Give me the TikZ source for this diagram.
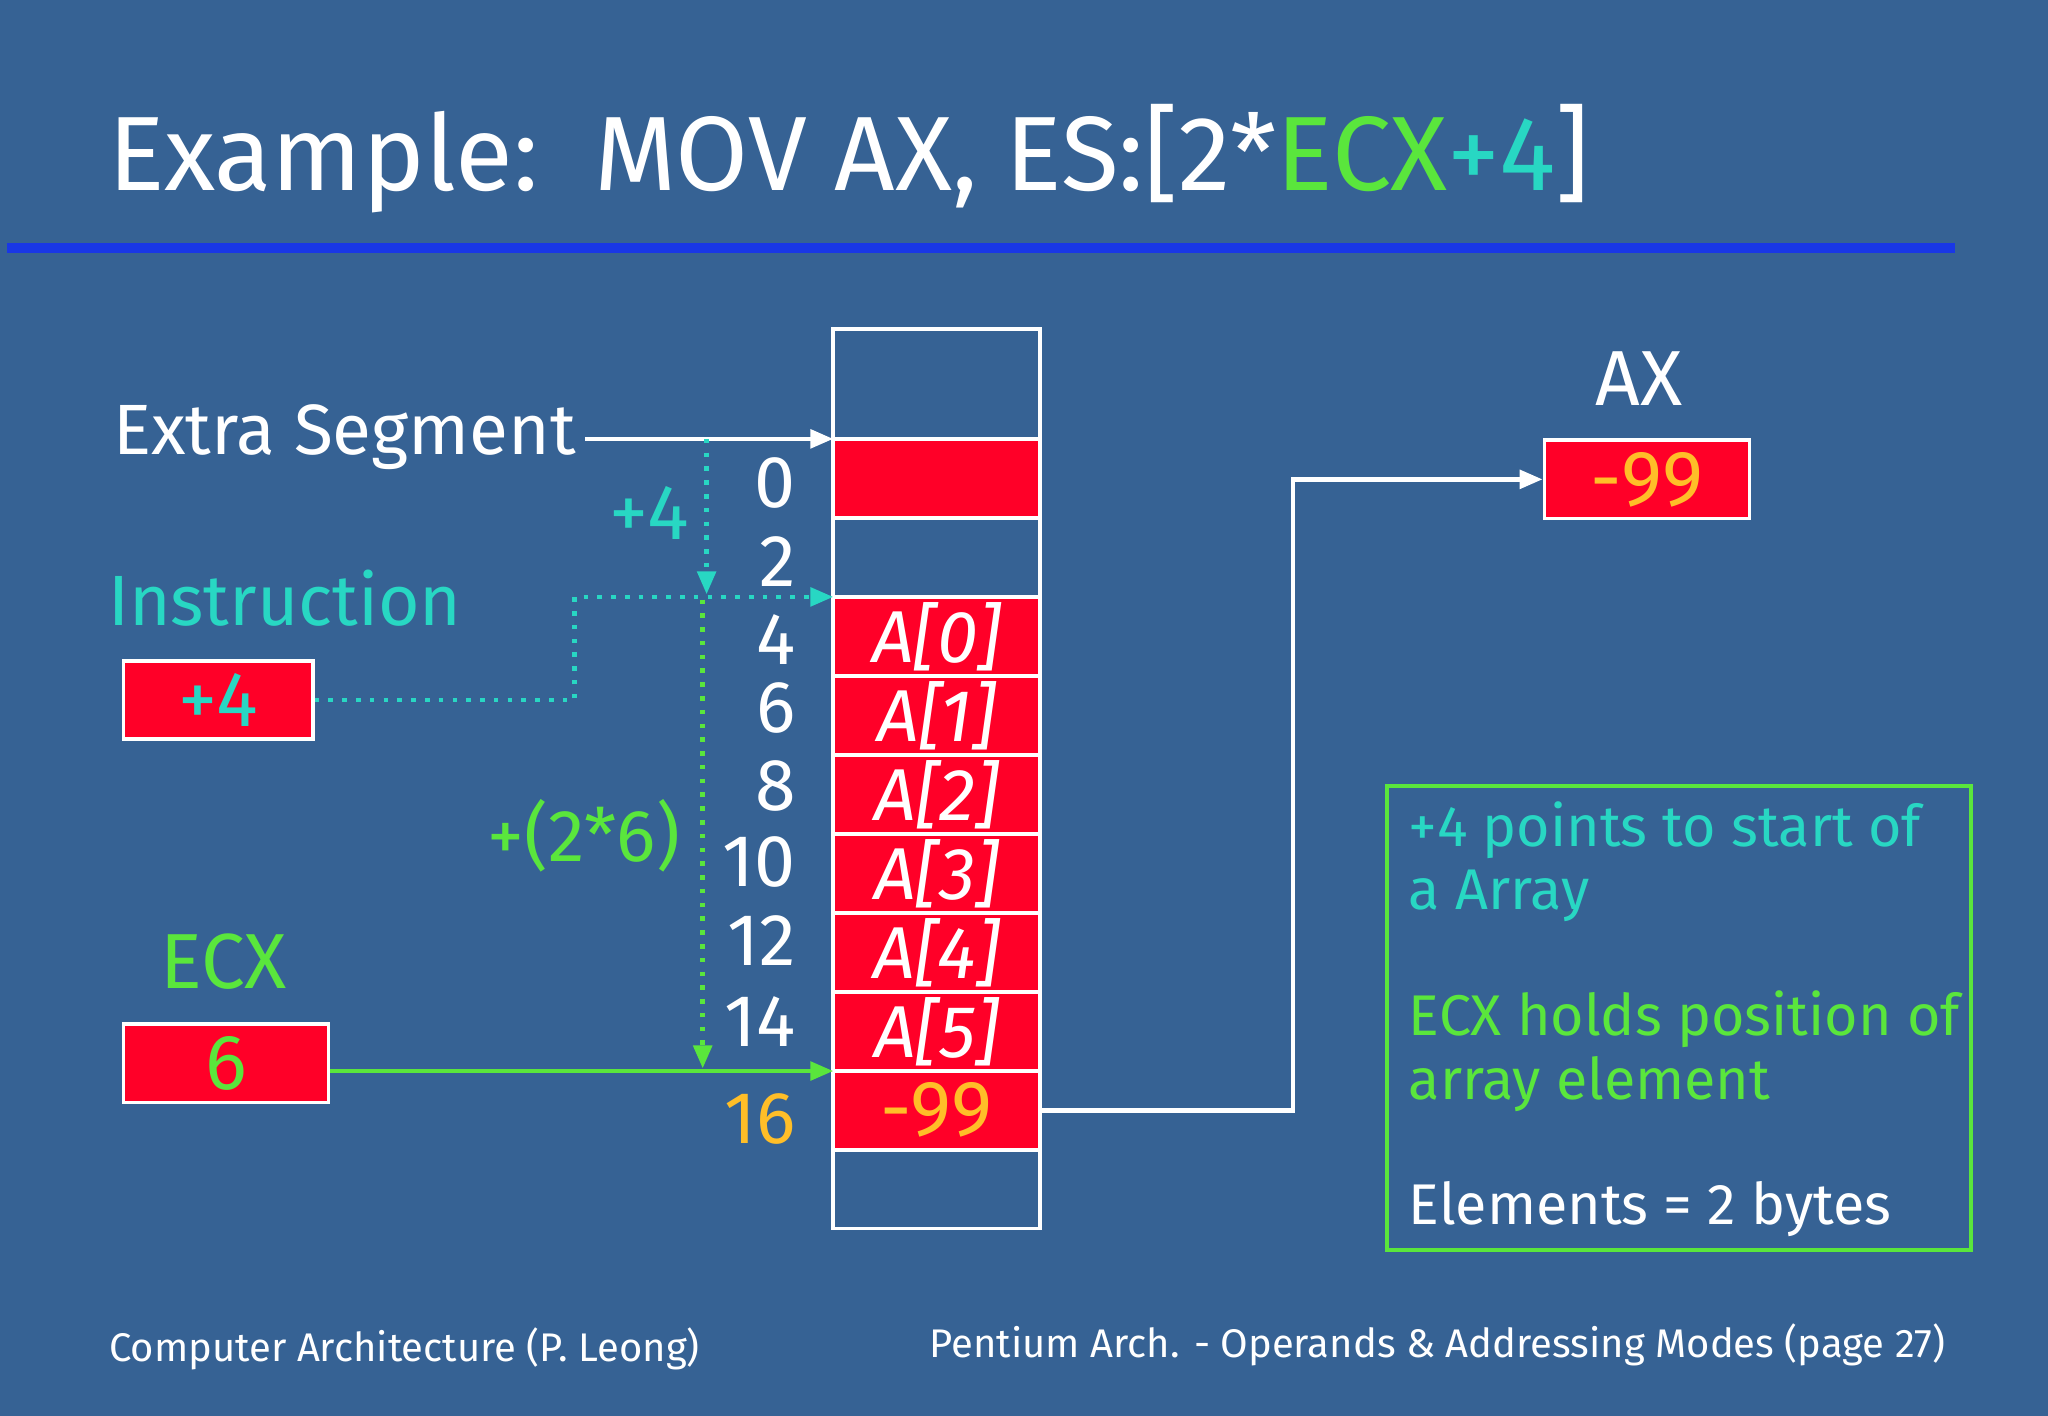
\documentclass[tikz,border=0pt]{standalone}
\usepackage{fontspec}
\setmainfont{Fira Sans}
\usetikzlibrary{positioning,arrows.meta}
\definecolor{bgblue}{RGB}{54,98,148}
\definecolor{lineblue}{RGB}{25,55,230}
\definecolor{cellred}{RGB}{255,0,40}
\definecolor{ecxgreen}{RGB}{90,230,60}
\definecolor{offcyan}{RGB}{40,215,195}
\definecolor{numorange}{RGB}{255,190,40}
\tikzset{
  >={Triangle[length=5pt,width=4pt]},
  link/.style={line width=1pt, ->},
  cell/.style={draw=white, thick, minimum width=1.58cm, minimum height=0.6cm, inner sep=0pt, text=white, font=\fontsize{16}{16}\selectfont\itshape},
  redcell/.style={cell, fill=cellred},
  reg/.style={draw=white, thick, fill=cellred, inner sep=0pt, font=\fontsize{17}{17}\selectfont},
  addr/.style={anchor=east, inner sep=0pt, text=white, font=\fontsize{16}{16}\selectfont},
  lbl/.style={anchor=west, inner sep=0pt, font=\fontsize{15.5}{15.5}\selectfont},
  note/.style={anchor=west, inner sep=0pt, font=\fontsize{12.5}{12.5}\selectfont},
}
\begin{document}
\begin{tikzpicture}[x=0.01cm,y=-0.01cm]
    \fill[bgblue] (0,0) rectangle (1568,1084);
    \useasboundingbox (0,0) rectangle (1568,1084);
    \fill[lineblue] (5,186) rectangle (1497,194);

    \node[anchor=base west, inner sep=0pt, text=white, font=\fontsize{23}{23}\selectfont] at (82,146)
      {Example:\ \ MOV AX, ES:[2*\textcolor{ecxgreen}{ECX}\textcolor{offcyan}{+4}]};

    % memory column
    \node[cell, minimum height=0.84cm] (top) at (717,294) {};
    \node[redcell] (m0) at (717,366.5) {};
    \node[cell] (m2) at (717,427) {};
    \foreach \i/\y in {0/487.5,1/548,2/608.5,3/669,4/729.5,5/790}
      \node[redcell] (a\i) at (717,\y) {A[\i]};
    \node[redcell, text=numorange, font=\fontsize{17}{17}\selectfont] (m16) at (717,850) {-99};
    \node[cell] (bot) at (717,910.5) {};

    \foreach \n/\y in {0/370,2/430,4/490,6/542,8/602,10/660,12/720,14/782}
      \node[addr] at (610,\y) {\n};
    \node[addr, text=numorange] at (610,857) {16};

    % segment
    \node[lbl, text=white] (es) at (86,335) {Extra Segment};
    \coordinate (esin) at (638,336);
    \draw[white, link] (es.east |- esin) ++(6,0) -- (esin);

    % instruction
    \node[lbl, text=offcyan] at (82,458) {Instruction};
    \node[reg, minimum width=1.45cm, minimum height=0.6cm, text=offcyan] (ins) at (167,536) {+4};
    \coordinate (a0in) at (638,457);
    \draw[offcyan, link, dotted] (ins.east) -- (440,536) -- (440,457) -- (a0in);
    \coordinate (s4) at (541,336);
    \coordinate (e4) at (541,455);
    \draw[offcyan, link, dotted] (s4) -- (e4);
    \node[text=offcyan, font=\fontsize{17}{17}\selectfont] at (497,393) {+4};

    % ecx
    \node[lbl, text=ecxgreen, font=\fontsize{17}{17}\selectfont] at (122,736) {ECX};
    \node[reg, minimum width=1.57cm, minimum height=0.6cm, text=ecxgreen] (ecx) at (173,814) {6};
    \coordinate (s12) at (538,459);
    \coordinate (e12) at (538,818);
    \draw[ecxgreen, link, dotted] (s12) -- (e12);
    \node[text=ecxgreen, font=\fontsize{16}{16}\selectfont] at (447,640) {+(2*6)};
    \coordinate (m16in) at (638,820);
    \draw[ecxgreen, link] (ecx.east |- m16in) -- (m16in);

    % ax
    \node[text=white, font=\fontsize{17}{17}\selectfont] at (1255,290) {AX};
    \node[reg, minimum width=1.57cm, minimum height=0.6cm, text=numorange] (ax) at (1261,367) {-99};
    \draw[white, link] (m16.east) -- (990,850) -- (990,367) -- (ax.west);

    % notes
    \draw[ecxgreen, thick] (1062,602) rectangle (1509,957);
    \node[note, text=offcyan] at (1078,636) {+4 points to start of};
    \node[note, text=offcyan] at (1078,686) {a Array};
    \node[note, text=ecxgreen] at (1078,780) {ECX holds position of};
    \node[note, text=ecxgreen] at (1078,830) {array element};
    \node[note, text=white] at (1078,926) {Elements = 2 bytes};

    % footer
    \node[anchor=west, inner sep=0pt, text=white, font=\fontsize{8.7}{8.7}\selectfont] at (83,1033) {Computer Architecture (P. Leong)};
    \node[anchor=east, inner sep=0pt, text=white, font=\fontsize{8.7}{8.7}\selectfont] at (1490,1030) {Pentium Arch. - Operands \& Addressing Modes (page 27)};
\end{tikzpicture}
\end{document}
